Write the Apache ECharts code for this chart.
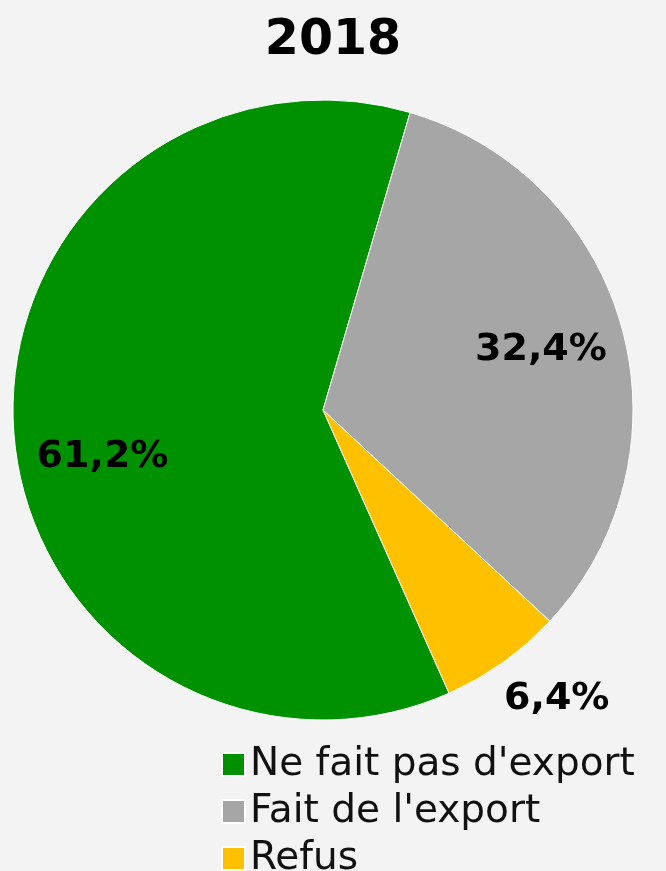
<!DOCTYPE html>
<html>
<head>
<meta charset="utf-8">
<script src="https://cdn.jsdelivr.net/npm/echarts@6/dist/echarts.min.js"></script>
<style>
  html, body { margin: 0; padding: 0; background: #f3f3f3; }
  #main { width: 666px; height: 871px; }
</style>
</head>
<body>
<div id="main"></div>
<script>
// données 2018
var categories = ["Ne fait pas d'export", "Fait de l'export", 'Refus'];
var values = [61.2, 32.4, 6.4];
var colors = ['#009100', '#a6a6a6', '#ffc000'];

var fontFam = '"DejaVu Sans", sans-serif';

var chart = echarts.init(document.getElementById('main'));

function pieData(showLabel) {
  return categories.map(function (name, i) {
    return {
      name: name,
      value: values[i],
      itemStyle: { color: colors[i] },
      label: { show: showLabel(i) }
    };
  });
}

var fmt = function (p) { return p.value.toFixed(1).replace('.', ',') + '%'; };
var labelStyle = {
  position: 'inside',
  formatter: fmt,
  color: '#000',
  fontFamily: fontFam,
  fontWeight: 'bold',
  fontSize: 38
};
var ghost = { color: 'rgba(0,0,0,0)', borderWidth: 0 };

chart.setOption({
  backgroundColor: '#f3f3f3',
  animation: false,
  title: {
    text: '2018',
    left: 'center',
    top: 12,
    textStyle: { fontFamily: fontFam, fontWeight: 'bold', fontSize: 49, color: '#000' }
  },
  legend: {
    orient: 'vertical',
    left: 216,
    top: 740,
    height: 200,
    itemWidth: 23,
    itemHeight: 23,
    itemGap: 8,
    icon: 'rect',
    data: categories,
    textStyle: { fontFamily: fontFam, fontSize: 39, color: '#111' }
  },
  series: [
    {
      // camembert principal
      type: 'pie',
      center: [323, 410],
      radius: 310,
      startAngle: 294,
      clockwise: true,
      silent: true,
      label: { show: false },
      labelLine: { show: false },
      itemStyle: { borderColor: '#ffffff', borderWidth: 1 },
      data: pieData(function () { return false; })
    },
    {
      // étiquettes dans les parts
      type: 'pie',
      center: [323, 410],
      radius: [136, 310],
      startAngle: 294,
      silent: true,
      legendHoverLink: false,
      label: labelStyle,
      labelLine: { show: false },
      labelLayout: function (p) {
        if (p.dataIndex === 0) return { dx: 5, dy: 32 };
      },
      data: pieData(function (i) { return i < 2; }).map(function (d) {
        d.itemStyle = ghost; return d;
      })
    },
    {
      // étiquette de la petite part, hors du disque
      type: 'pie',
      center: [323, 410],
      radius: [340, 400],
      startAngle: 294,
      silent: true,
      legendHoverLink: false,
      label: labelStyle,
      labelLine: { show: false },
      labelLayout: function () { return { dx: 17, dy: -14 }; },
      data: pieData(function (i) { return i === 2; }).map(function (d) {
        d.itemStyle = ghost; return d;
      })
    }
  ]
});
</script>
</body>
</html>
